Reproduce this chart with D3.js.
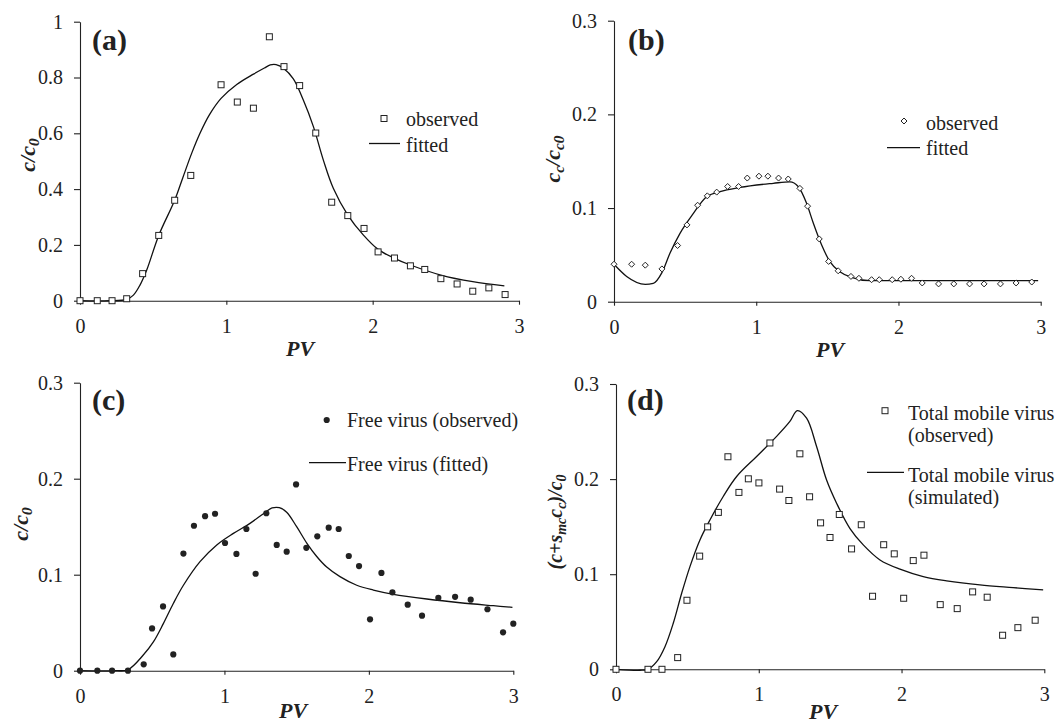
<!DOCTYPE html>
<html>
<head>
<meta charset="utf-8">
<script src="https://cdn.jsdelivr.net/npm/d3@7"></script>
<style>
  html, body { margin: 0; padding: 0; background: #fff; }
  svg { display: block; }
  text { font-family: "Liberation Serif", "Times New Roman", serif; fill: #222; }
</style>
</head>
<body>
<svg id="chart" width="1058" height="726"></svg>
<script>
// ---------------- DATA ----------------
const xTicks = [0, 1, 2, 3];

// (a)
const pvA  = [0, 0.118, 0.219, 0.319, 0.428, 0.538, 0.647, 0.757, 0.964, 1.075, 1.185, 1.294, 1.394, 1.501, 1.611, 1.72, 1.83, 1.941, 2.037, 2.149, 2.258, 2.356, 2.466, 2.577, 2.684, 2.794, 2.905];
const obsA = [0, 0, 0, 0.007, 0.097, 0.234, 0.36, 0.449, 0.774, 0.712, 0.69, 0.946, 0.839, 0.771, 0.601, 0.353, 0.305, 0.259, 0.175, 0.153, 0.125, 0.112, 0.079, 0.06, 0.034, 0.046, 0.022];
const fitPvA = [0, 0.2, 0.32, 0.365, 0.41, 0.456, 0.538, 0.647, 0.702, 0.763, 0.82, 0.884, 0.964, 1.071, 1.185, 1.26, 1.3, 1.34, 1.39, 1.458, 1.526, 1.595, 1.663, 1.731, 1.83, 1.937, 2.037, 2.149, 2.258, 2.466, 2.684, 2.9];
const fitA   = [0, 0, 0.005, 0.02, 0.056, 0.11, 0.234, 0.36, 0.44, 0.528, 0.6, 0.666, 0.725, 0.775, 0.812, 0.834, 0.845, 0.846, 0.833, 0.795, 0.719, 0.624, 0.504, 0.403, 0.307, 0.235, 0.184, 0.152, 0.128, 0.092, 0.068, 0.053];
const yTicksA = [0, 0.2, 0.4, 0.6, 0.8, 1];

// (b)
const pvB  = [0, 0.124, 0.22, 0.337, 0.447, 0.513, 0.588, 0.656, 0.722, 0.799, 0.876, 0.937, 1.019, 1.082, 1.157, 1.225, 1.307, 1.361, 1.443, 1.509, 1.576, 1.666, 1.722, 1.811, 1.865, 1.956, 2.017, 2.092, 2.167, 2.282, 2.389, 2.5, 2.602, 2.717, 2.827, 2.937];
const obsB = [0.04, 0.04, 0.039, 0.035, 0.06, 0.082, 0.103, 0.113, 0.117, 0.123, 0.123, 0.132, 0.134, 0.134, 0.132, 0.131, 0.121, 0.102, 0.067, 0.043, 0.033, 0.027, 0.025, 0.0235, 0.0235, 0.0235, 0.024, 0.025, 0.02, 0.019, 0.019, 0.019, 0.019, 0.019, 0.02, 0.021];
const fitPvB = [0, 0.089, 0.22, 0.276, 0.337, 0.394, 0.464, 0.557, 0.651, 0.745, 0.885, 1.12, 1.237, 1.295, 1.354, 1.401, 1.46, 1.518, 1.588, 1.67, 1.799, 2.982];
const fitB   = [0.04, 0.027, 0.0186, 0.0196, 0.031, 0.052, 0.073, 0.094, 0.112, 0.1175, 0.122, 0.1264, 0.128, 0.123, 0.105, 0.084, 0.0605, 0.0427, 0.032, 0.026, 0.0224, 0.0224];
const yTicksB = [0, 0.1, 0.2, 0.3];

// (c)
const pvC  = [0, 0.12, 0.222, 0.332, 0.441, 0.499, 0.575, 0.646, 0.716, 0.789, 0.866, 0.935, 1.004, 1.083, 1.152, 1.216, 1.29, 1.362, 1.431, 1.496, 1.567, 1.643, 1.722, 1.791, 1.861, 1.932, 2.008, 2.087, 2.163, 2.269, 2.368, 2.481, 2.597, 2.705, 2.821, 2.929, 3.0];
const obsC = [0, 0, 0, 0, 0.0066, 0.044, 0.067, 0.017, 0.122, 0.151, 0.161, 0.1635, 0.133, 0.1216, 0.1476, 0.101, 0.164, 0.131, 0.124, 0.194, 0.128, 0.14, 0.149, 0.1476, 0.1195, 0.109, 0.0535, 0.1018, 0.0816, 0.0688, 0.0573, 0.076, 0.077, 0.074, 0.064, 0.04, 0.049];
const fitPvC = [0, 0.25, 0.332, 0.438, 0.508, 0.577, 0.646, 0.716, 0.831, 0.947, 1.062, 1.177, 1.27, 1.33, 1.38, 1.431, 1.5, 1.57, 1.639, 1.708, 1.8, 1.916, 2.031, 2.17, 2.401, 2.632, 2.862, 2.994];
const fitC   = [0, 0, 0.001, 0.0163, 0.03, 0.049, 0.07, 0.089, 0.1136, 0.131, 0.143, 0.1535, 0.1635, 0.1695, 0.1698, 0.165, 0.15, 0.133, 0.119, 0.108, 0.098, 0.089, 0.084, 0.0796, 0.0747, 0.0708, 0.0677, 0.066];
const yTicksC = [0, 0.1, 0.2, 0.3];

// (d)
const pvD  = [0, 0.224, 0.322, 0.432, 0.497, 0.586, 0.642, 0.717, 0.784, 0.861, 0.927, 1.001, 1.078, 1.146, 1.211, 1.288, 1.356, 1.433, 1.499, 1.564, 1.65, 1.718, 1.797, 1.875, 1.949, 2.015, 2.082, 2.157, 2.271, 2.39, 2.498, 2.6, 2.708, 2.815, 2.936];
const obsD = [0, 0, 0, 0.0123, 0.0726, 0.119, 0.1498, 0.165, 0.2235, 0.186, 0.2003, 0.196, 0.238, 0.1895, 0.1775, 0.2266, 0.1814, 0.154, 0.1386, 0.1628, 0.1266, 0.152, 0.0768, 0.131, 0.1214, 0.0747, 0.1143, 0.12, 0.068, 0.0638, 0.0814, 0.0758, 0.0358, 0.0438, 0.0516];
const simPvD = [0, 0.168, 0.224, 0.285, 0.343, 0.401, 0.46, 0.518, 0.588, 0.658, 0.751, 0.845, 0.985, 1.125, 1.218, 1.27, 1.335, 1.405, 1.475, 1.545, 1.639, 1.732, 1.849, 1.989, 2.152, 2.316, 2.549, 2.782, 2.992];
const simD   = [0, -0.001, 0, 0.008, 0.0238, 0.0484, 0.08, 0.108, 0.136, 0.157, 0.1817, 0.2027, 0.2238, 0.2449, 0.2606, 0.272, 0.264, 0.2343, 0.199, 0.1747, 0.148, 0.1308, 0.115, 0.1053, 0.0975, 0.093, 0.0887, 0.0859, 0.0835];
const yTicksD = [0, 0.1, 0.2, 0.3];

// ---------------- DRAW ----------------
const svg = d3.select("#chart");
const INK = "#222";

function zip(xs, ys) { return xs.map((x, i) => [x, ys[i]]); }

function drawMarker(g, kind, x, y) {
  if (kind === "square") {
    g.append("rect").attr("x", x - 3).attr("y", y - 3).attr("width", 6).attr("height", 6)
      .attr("fill", "#fff").attr("stroke", INK).attr("stroke-width", 1);
  } else if (kind === "diamond") {
    g.append("path").attr("d", `M${x},${y-3}L${x+3},${y}L${x},${y+3}L${x-3},${y}Z`)
      .attr("fill", "#fff").attr("stroke", INK).attr("stroke-width", 1);
  } else {
    g.append("circle").attr("cx", x).attr("cy", y).attr("r", 3.1).attr("fill", INK);
  }
}

// label parts: [text, isSub]
function richText(sel, parts) {
  parts.forEach(p => {
    const t = sel.append("tspan").text(p[0]);
    if (p[1]) t.attr("baseline-shift", "-0.25em").attr("font-size", "70%");
    else t.attr("baseline-shift", "0");
  });
}

const yFmt = d => d === 0 ? "0" : (Number.isInteger(d) ? String(d) : d.toFixed(1));

function panel(cfg) {
  const x = d3.scaleLinear().domain([0, 3]).range(cfg.xr);
  const y = d3.scaleLinear().domain(cfg.yd).range(cfg.yr);
  const g = svg.append("g");

  const yAxis = d3.axisLeft(y).tickValues(cfg.yTicks).tickSize(6).tickSizeOuter(0).tickPadding(11)
    .tickFormat(yFmt);
  const xAxis = d3.axisBottom(x).tickValues(xTicks).tickSize(4).tickSizeOuter(0).tickPadding(14)
    .tickFormat(d3.format("d"));

  const ga = g.append("g").attr("transform", `translate(${cfg.xr[0]},0)`).call(yAxis);
  const gb = g.append("g").attr("transform", `translate(0,${cfg.yr[0]})`).call(xAxis);
  [ga, gb].forEach(a => {
    a.selectAll("path,line").attr("stroke", INK).attr("stroke-width", 1.1);
    a.selectAll("text").attr("font-size", 20).attr("font-family", '"Liberation Serif", serif').attr("fill", INK);
  });

  // line
  const line = d3.line().x(d => x(d[0])).y(d => y(d[1])).curve(cfg.curve || d3.curveCatmullRom.alpha(0.5));
  g.append("path").datum(zip(cfg.fx, cfg.fy)).attr("d", line)
    .attr("fill", "none").attr("stroke", "#111").attr("stroke-width", 1.3);

  // markers
  const mg = g.append("g");
  zip(cfg.ox, cfg.oy).forEach(d => drawMarker(mg, cfg.marker, x(d[0]), y(d[1])));

  // panel tag
  g.append("text").attr("x", cfg.tag[0]).attr("y", cfg.tag[1]).attr("font-size", 30)
    .attr("font-weight", "bold").text(cfg.tagText);

  // y label
  const yl = g.append("text").attr("transform", `translate(${cfg.yl[0]},${cfg.yl[1]}) rotate(-90)`)
    .attr("text-anchor", "middle").attr("font-size", cfg.ylSize || 22).attr("font-weight", "bold").attr("font-style", "italic");
  richText(yl, cfg.ylabel);

  // x label
  g.append("text").attr("x", cfg.xl[0]).attr("y", cfg.xl[1]).attr("text-anchor", "middle")
    .attr("font-size", 22).attr("font-weight", "bold").attr("font-style", "italic").text("PV");

  // legend
  const L = cfg.legend;
  drawMarker(mg, cfg.marker, L.m[0], L.m[1]);
  L.obsText.forEach((t, i) => g.append("text").attr("x", L.tx).attr("y", L.obsY[i]).attr("font-size", 20).text(t));
  g.append("line").attr("x1", L.l[0]).attr("x2", L.l[1]).attr("y1", L.l[2]).attr("y2", L.l[2])
    .attr("stroke", "#111").attr("stroke-width", 1.3);
  L.fitText.forEach((t, i) => g.append("text").attr("x", L.tx).attr("y", L.fitY[i]).attr("font-size", 20).text(t));
}

panel({
  xr: [80, 519], yr: [300.7, 21.7], yd: [0, 1], yTicks: yTicksA,
  ox: pvA, oy: obsA, fx: fitPvA, fy: fitA, marker: "square",
  tag: [92, 50], tagText: "(a)", yl: [35, 155], ylabel: [["c/c"], ["0", true]], xl: [300, 356],
  legend: { m: [384, 118.5], tx: 406, obsText: ["observed"], obsY: [126], l: [369, 400, 143.5], fitText: ["fitted"], fitY: [152] }
});

panel({
  xr: [614, 1040.7], yr: [301.7, 20.7], yd: [0, 0.3], yTicks: yTicksB, curve: d3.curveMonotoneX,
  ox: pvB, oy: obsB, fx: fitPvB, fy: fitB, marker: "diamond",
  tag: [628, 50], tagText: "(b)", yl: [560, 159], ylabel: [["c"], ["c", true], ["/c"], ["c0", true]], xl: [830, 357],
  legend: { m: [904, 121], tx: 926, obsText: ["observed"], obsY: [129.5], l: [887, 920, 147.7], fitText: ["fitted"], fitY: [155] }
});

panel({
  xr: [80, 513.3], yr: [670.7, 382.7], yd: [0, 0.3], yTicks: yTicksC,
  ox: pvC, oy: obsC, fx: fitPvC, fy: fitC, marker: "dot",
  tag: [92, 410], tagText: "(c)", yl: [28, 524], ylabel: [["c/c"], ["0", true]], xl: [293, 718],
  legend: { m: [326.7, 420], tx: 347, obsText: ["Free virus (observed)"], obsY: [427], l: [309, 346, 462.7], fitText: ["Free virus (fitted)"], fitY: [471] }
});

panel({
  xr: [616, 1044.3], yr: [669.3, 384], yd: [0, 0.3], yTicks: yTicksD,
  ox: pvD, oy: obsD, fx: simPvD, fy: simD, marker: "square",
  tag: [627, 410], tagText: "(d)", yl: [562, 522], ylSize: 20,
  ylabel: [["(c+s"], ["mc", true], ["c"], ["c", true], [")/c"], ["0", true]], xl: [823, 719],
  legend: { m: [885, 410.7], tx: 908, obsText: ["Total mobile virus", "(observed)"], obsY: [420, 441.7], l: [867, 904, 472.3], fitText: ["Total mobile virus", "(simulated)"], fitY: [482, 504] }
});
</script>
</body>
</html>
